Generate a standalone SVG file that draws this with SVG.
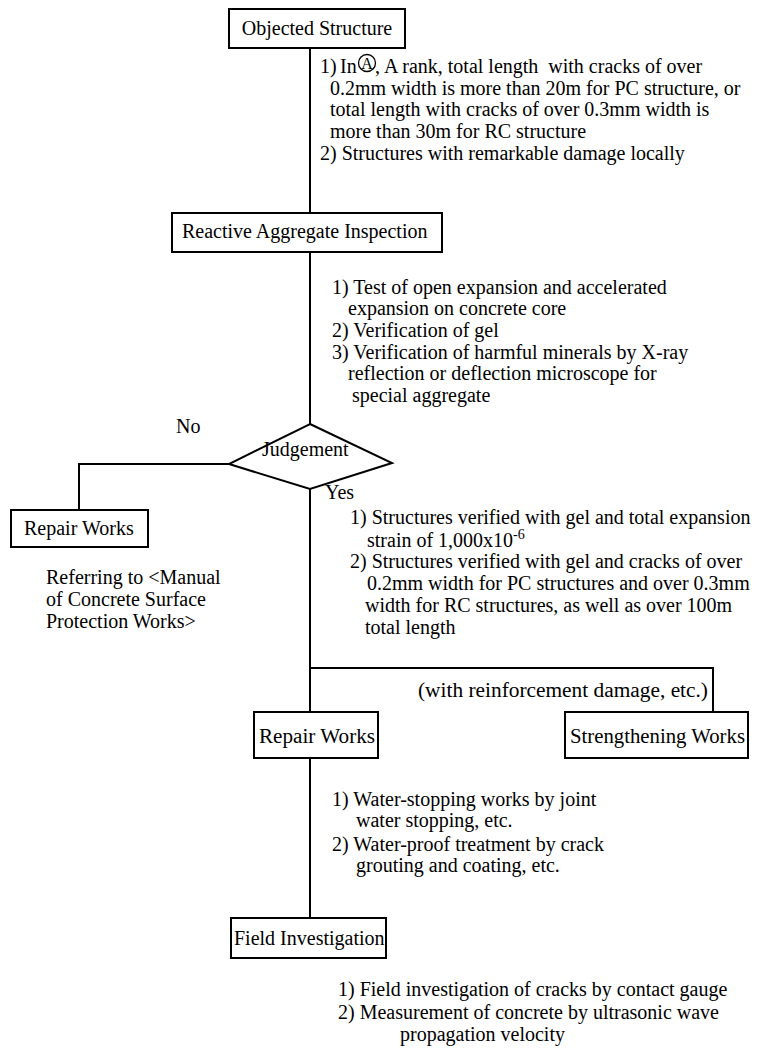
<svg xmlns="http://www.w3.org/2000/svg" width="779" height="1050" viewBox="0 0 779 1050">
<style>
text{font-family:"Liberation Serif","Times New Roman",serif;font-size:20px;fill:#000}
.box{fill:#fff;stroke:#000;stroke-width:2}
.ln{fill:none;stroke:#000;stroke-width:2}
</style>
<rect width="779" height="1050" fill="#fff"/>
<g id="connectors">
<path class="ln" d="M310 48V213"/>
<path class="ln" d="M310 252V424"/>
<path class="ln" d="M229 464H79V510"/>
<path class="ln" d="M310 489V712"/>
<path class="ln" d="M310 668H713V712"/>
<path class="ln" d="M310 758V918"/>
</g>
<g id="objected">
<rect class="box" x="229" y="9" width="176" height="39"/>
<text x="317" y="35" text-anchor="middle">Objected Structure</text>
</g>
<g id="note1">
<text x="320" y="73">1)</text>
<text x="340" y="73">In</text>
<circle cx="367" cy="63" r="8.5" fill="none" stroke="#000" stroke-width="1.3"/>
<text x="367" y="69" text-anchor="middle" style="font-size:16px">A</text>
<text x="375" y="73" xml:space="preserve">, A rank, total length  with cracks of over</text>
<text x="330" y="95">0.2mm width is more than 20m for PC structure, or</text>
<text x="330" y="116">total length with cracks of over 0.3mm width is</text>
<text x="330" y="138">more than 30m for RC structure</text>
<text x="320" y="160">2) Structures with remarkable damage locally</text>
</g>
<g id="reactive">
<rect class="box" x="172" y="213" width="270" height="39"/>
<text x="182" y="238">Reactive Aggregate Inspection</text>
</g>
<g id="note2">
<text x="332" y="294">1) Test of open expansion and accelerated</text>
<text x="348" y="315">expansion on concrete core</text>
<text x="332" y="337">2) Verification of gel</text>
<text x="332" y="359">3) Verification of harmful minerals by X-ray</text>
<text x="348" y="380">reflection or deflection microscope for</text>
<text x="352" y="402">special aggregate</text>
</g>
<g id="judgement">
<polygon class="box" points="310,424 392,463 310,489 229,464"/>
<text x="262" y="456">Judgement</text>
</g>
<text x="176" y="433">No</text>
<text x="325" y="499">Yes</text>
<g id="repair1">
<rect class="box" x="11" y="510" width="137" height="37"/>
<text x="24" y="535">Repair Works</text>
</g>
<g id="note3">
<text x="46" y="584">Referring to &lt;Manual</text>
<text x="46" y="606">of Concrete Surface</text>
<text x="46" y="628">Protection Works&gt;</text>
</g>
<g id="note4">
<text x="350" y="524">1) Structures verified with gel and total expansion</text>
<text x="367" y="547">strain of 1,000x10<tspan dy="-8" style="font-size:14px">-6</tspan></text>
<text x="350" y="568">2) Structures verified with gel and cracks of over</text>
<text x="367" y="590">0.2mm width for PC structures and over 0.3mm</text>
<text x="365" y="612">width for RC structures, as well as over 100m</text>
<text x="365" y="634">total length</text>
</g>
<text x="418" y="697" textLength="290" lengthAdjust="spacingAndGlyphs">(with reinforcement damage, etc.)</text>
<g id="repair2">
<rect class="box" x="254" y="712" width="124" height="46"/>
<text x="259" y="743" textLength="116" lengthAdjust="spacingAndGlyphs">Repair Works</text>
</g>
<g id="strengthening">
<rect class="box" x="565" y="712" width="183" height="46"/>
<text x="570" y="743" textLength="175" lengthAdjust="spacingAndGlyphs">Strengthening Works</text>
</g>
<g id="note5">
<text x="332" y="806">1) Water-stopping works by joint</text>
<text x="356" y="827">water stopping, etc.</text>
<text x="332" y="851">2) Water-proof treatment by crack</text>
<text x="356" y="872">grouting and coating, etc.</text>
</g>
<g id="field">
<rect class="box" x="231" y="918" width="155" height="40"/>
<text x="234" y="945">Field Investigation</text>
</g>
<g id="note6">
<text x="338" y="996">1) Field investigation of cracks by contact gauge</text>
<text x="338" y="1019">2) Measurement of concrete by ultrasonic wave</text>
<text x="400" y="1041">propagation velocity</text>
</g>
</svg>
